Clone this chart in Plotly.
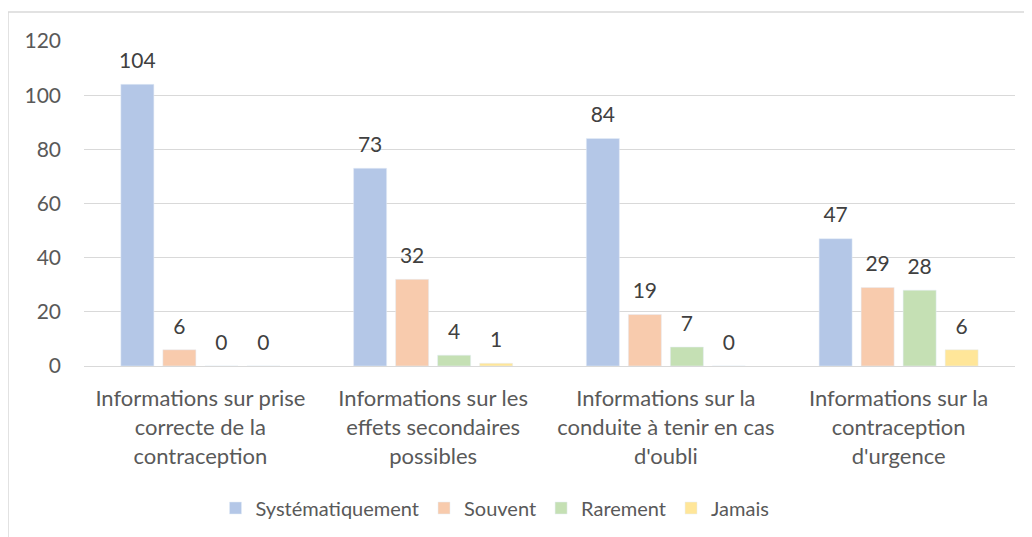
import plotly.graph_objects as go

categories = [
    "Informations sur prise<br>correcte de la<br>contraception",
    "Informations sur les<br>effets secondaires<br>possibles",
    "Informations sur la<br>conduite à tenir en cas<br>d'oubli",
    "Informations sur la<br>contraception<br>d'urgence",
]
series_names = ["Systématiquement", "Souvent", "Rarement", "Jamais"]
systematiquement = [104, 73, 84, 47]
souvent = [6, 32, 19, 29]
rarement = [0, 4, 7, 28]
jamais = [0, 1, 0, 6]
colors = ["#B4C7E7", "#F8CBAD", "#C5E0B4", "#FFE699"]
y_ticks = [0, 20, 40, 60, 80, 100, 120]

FONT = "Lato"
TXT = "#595959"
GAP = 0.278

# page body has an 8px default margin, figure sized to compensate
W, H = 1016, 529
L, R, T, B = 76, 9, 33, 171
PW, PH = W - L - R, H - T - B

fig = go.Figure()
all_vals = [systematiquement, souvent, rarement, jamais]
for i, (name, vals, col) in enumerate(zip(series_names, all_vals, colors)):
    fig.add_trace(go.Bar(
        name=name, x=categories, y=vals, marker_color=col,
        offsetgroup=str(i), legendgroup=name,
    ))
for i, (name, vals) in enumerate(zip(series_names, all_vals)):
    fig.add_trace(go.Scatter(
        x=categories, y=vals, mode="text+markers",
        marker=dict(size=16, opacity=0),
        text=[str(v) for v in vals], textposition="top center",
        textfont=dict(family=FONT, size=21, color="#404040"),
        offsetgroup=str(i), showlegend=False, legendgroup=name,
        cliponaxis=False, hoverinfo="skip",
    ))

fig.update_layout(
    width=W, height=H,
    margin=dict(l=L, r=R, t=T, b=B),
    paper_bgcolor="white", plot_bgcolor="white",
    barmode="group", bargap=GAP, bargroupgap=0.214,
    scattermode="group", scattergap=GAP,
    font=dict(family=FONT, size=21, color=TXT),
    showlegend=True,
    legend=dict(orientation="h", x=(487 - L) / PW, xanchor="center",
                y=(358 - 500) / PH, yanchor="middle",
                font=dict(family=FONT, size=20, color=TXT), itemwidth=30,
                traceorder="normal"),
)
fig.update_yaxes(range=[0, 120], tickvals=y_ticks, showgrid=True, gridcolor="#D9D9D9",
                 gridwidth=1, zeroline=False, showline=False, ticks="",
                 tickfont=dict(family=FONT, size=21, color=TXT), ticklabelstandoff=22,
                 automargin=False)
fig.update_xaxes(showline=True, linecolor="#D9D9D9", linewidth=1, ticks="",
                 tickfont=dict(family=FONT, size=22, color=TXT), ticklabelstandoff=13,
                 automargin=False)

fig.add_shape(type="rect", xref="paper", yref="paper",
              x0=(0 - L) / PW, x1=1.2, y0=-1.0, y1=(358 - 4) / PH,
              line=dict(color="#D9D9D9", width=1.5), layer="below")

fig.write_html("out.html")
